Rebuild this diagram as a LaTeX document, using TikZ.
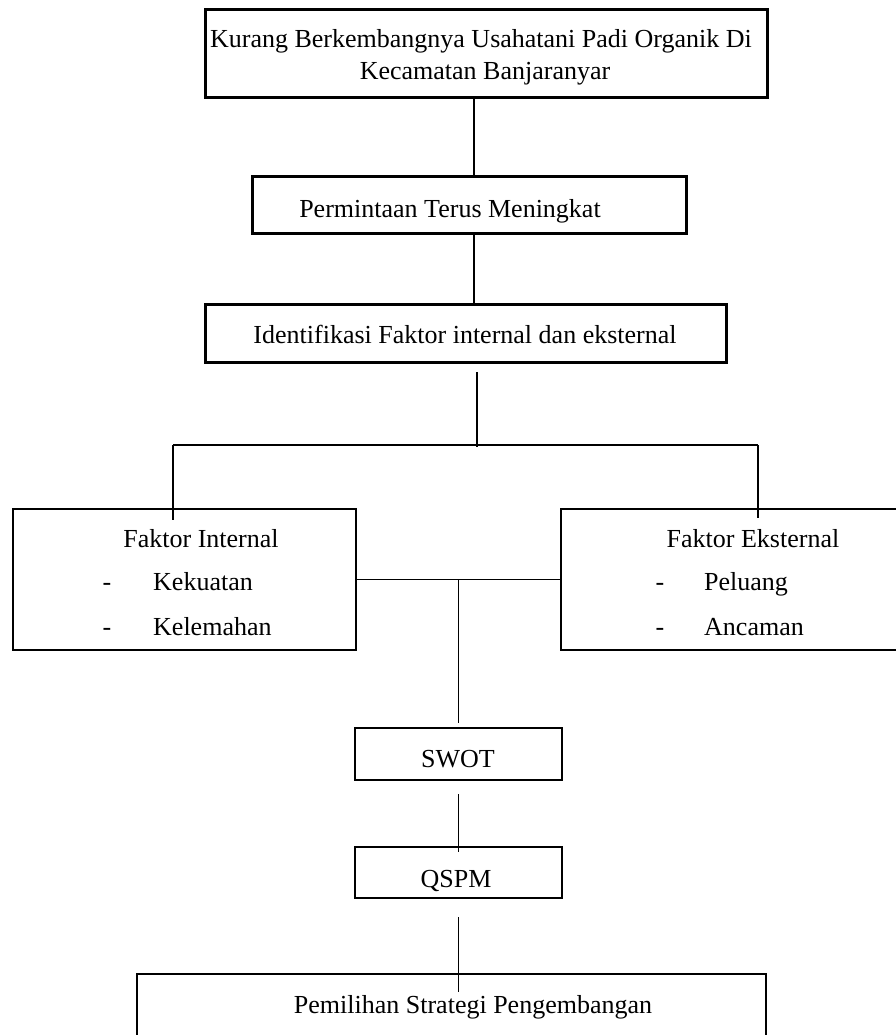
\documentclass[tikz,border=0pt]{standalone}
\usepackage{fontspec}
\setmainfont{Liberation Serif}
\usepackage{tikz}
\usetikzlibrary{
    positioning,
    calc
}

\begin{document}
\begin{tikzpicture}[
        x=1pt, y=-1pt,
        kotak/.style={draw, line width=2pt, inner sep=0pt, outer sep=0pt},
        kotak tebal/.style={kotak, line width=3pt},
        teks/.style={font=\fontsize{26}{31}\selectfont, inner sep=0pt, anchor=base},
        garis/.style={line width=1.3pt},
        garis tebal/.style={line width=2pt},
    ]
    \useasboundingbox (0,0) rectangle (895,1035);

    % Masalah utama
    \node[kotak tebal, minimum width=562, minimum height=88] (masalah) at (486,54) {};
    \node[teks] (masalah-1) at (481,48) {Kurang Berkembangnya Usahatani Padi Organik Di};
    \node[teks] (masalah-2) at (485,80) {Kecamatan Banjaranyar};

    % Permintaan
    \node[kotak tebal, minimum width=434, minimum height=56] (permintaan) at (469,205) {};
    \node[teks] (permintaan-teks) at (450,217) {Permintaan Terus Meningkat};

    % Identifikasi faktor
    \node[kotak tebal, minimum width=521, minimum height=58] (ident) at (465.5,333) {};
    \node[teks] (ident-teks) at (465,343) {Identifikasi Faktor internal dan eksternal};

    % Faktor internal dan eksternal
    \node[kotak, minimum width=343, minimum height=141] (internal) at (184.5,579.5) {};
    \node[teks] (internal-teks) at (201,547) {Faktor Internal};
    \node[kotak, minimum width=349, minimum height=141] (eksternal) at (735.5,579.5) {};
    \node[teks] (eksternal-teks) at (753,547) {Faktor Eksternal};

    \foreach \kata/\y in {Kekuatan/590, Kelemahan/635} {
        \node[teks] (int-strip-\y) at (107,\y) {-};
        \node[teks, anchor=base west] (int-kata-\y) at (153,\y) {\kata};
    }
    \foreach \kata/\y in {Peluang/590, Ancaman/635} {
        \node[teks] (eks-strip-\y) at (660,\y) {-};
        \node[teks, anchor=base west] (eks-kata-\y) at (704,\y) {\kata};
    }

    % Analisis
    \node[kotak, minimum width=207, minimum height=52] (swot) at (458.5,754) {};
    \node[teks] (swot-teks) at (458,767) {SWOT};
    \node[kotak, minimum width=207, minimum height=51] (qspm) at (458.5,872.5) {};
    \node[teks] (qspm-teks) at (456,887) {QSPM};

    % Strategi
    \node[kotak, line width=2.3pt, minimum width=629, minimum height=106] (pemilihan) at (451.5,1027) {};
    \node[teks] (pemilihan-teks) at (473,1013) {Pemilihan Strategi Pengembangan};

    % Garis penghubung
    \coordinate (sumbu) at (474,0);
    \coordinate (cabang) at (477,445);
    \coordinate (kiri) at (173,445);
    \coordinate (kanan) at (758,445);

    \draw[garis tebal] (masalah.south -| sumbu) -- (permintaan.north -| sumbu);
    \draw[garis tebal] (permintaan.south -| sumbu) -- (ident.north -| sumbu);
    \draw[garis] ([yshift=-10]ident.south -| cabang) -- ([yshift=-2]cabang);
    \draw[garis] (kiri) -- (kanan);
    \draw[garis] (kiri) -- ([yshift=-11]internal.north -| kiri);
    \draw[garis] (kanan) -- ([yshift=-9]eksternal.north -| kanan);
    \draw[garis] (internal.east) -- (eksternal.west);
    \draw[garis] (internal.east -| swot.north) -- ([yshift=5]swot.north);
    \draw[garis] ([yshift=-14]swot.south) -- ([yshift=-5]qspm.north);
    \draw[garis] ([yshift=-19]qspm.south) -- ([yshift=-18]pemilihan.north -| qspm.south);
\end{tikzpicture}
\end{document}
